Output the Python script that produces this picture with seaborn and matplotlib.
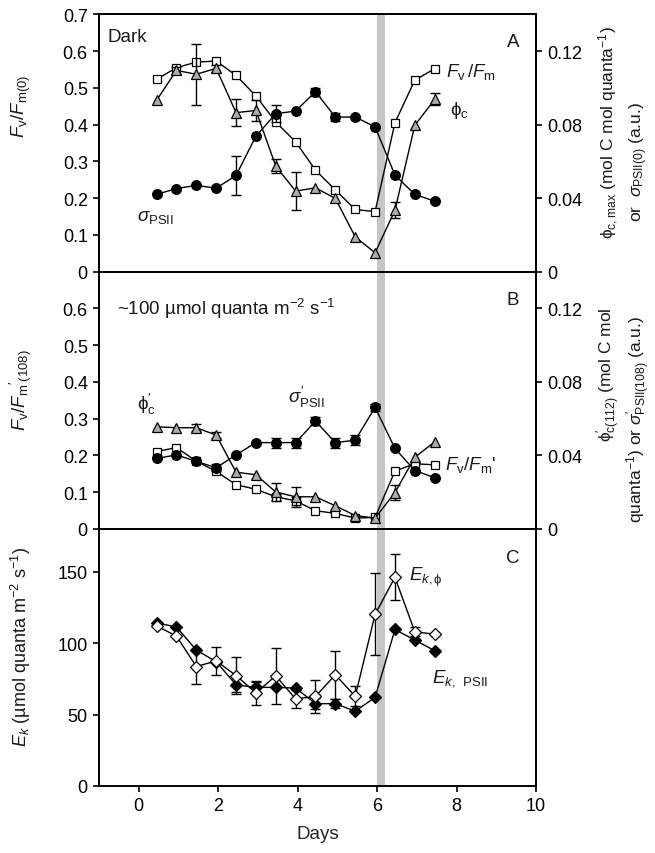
import numpy as np
import pandas as pd
import matplotlib
matplotlib.use('Agg')
import matplotlib.pyplot as plt
import seaborn as sns

# ---------------- data ----------------
days = [0.45, 0.95, 1.45, 1.95, 2.45, 2.95, 3.45, 3.95, 4.45, 4.95, 5.45, 5.95, 6.45, 6.95, 7.45]

# Panel A (dark)
fvfm_dark = [0.523, 0.555, 0.570, 0.573, 0.534, 0.478, 0.407, 0.353, 0.276, 0.222, 0.169, 0.163, 0.405, 0.521, 0.552]
phic_dark = [0.0932, 0.1095, 0.1074, 0.1106, 0.0865, 0.0877, 0.0574, 0.0438, 0.0456, 0.0398, 0.0189, 0.0102, 0.0334, 0.0796, 0.0937]
phic_dark_err = [0, 0.002, 0.0165, 0.002, 0.0075, 0.0055, 0.004, 0.0104, 0, 0, 0, 0, 0.0044, 0, 0.0033]
sigma_dark = [0.0420, 0.0452, 0.0469, 0.0454, 0.0523, 0.0737, 0.0859, 0.0874, 0.0979, 0.0841, 0.0841, 0.0788, 0.0525, 0.0420, 0.0383]
sigma_dark_err = [0, 0, 0, 0, 0.0106, 0, 0.0047, 0, 0.0022, 0.002, 0, 0, 0, 0, 0]

# Panel B (~100 umol quanta)
fvfm_light = [0.210, 0.221, 0.184, 0.156, 0.120, 0.1075, 0.087, 0.076, 0.049, 0.042, 0.029, 0.031, 0.157, 0.177, 0.174]
fvfm_light_err = [0, 0, 0, 0, 0, 0, 0.008, 0.010, 0, 0, 0, 0, 0, 0, 0]
phic_light = [0.0555, 0.0550, 0.0550, 0.0510, 0.0308, 0.0294, 0.0200, 0.0174, 0.0174, 0.0125, 0.0072, 0.0058, 0.0197, 0.0389, 0.0473]
phic_light_err = [0, 0, 0.002, 0.0015, 0, 0, 0.0048, 0.0054, 0, 0, 0, 0, 0.0043, 0, 0]
sigma_light = [0.0383, 0.0402, 0.0367, 0.0332, 0.0402, 0.0469, 0.0469, 0.0469, 0.0586, 0.0469, 0.0482, 0.0661, 0.0437, 0.0317, 0.0278]
sigma_light_err = [0, 0, 0, 0.002, 0, 0, 0.0027, 0.0027, 0.0022, 0.0027, 0.0027, 0.002, 0, 0, 0]

# Panel C (Ek)
ek_psii = [114.1, 111.3, 95.1, 87.0, 70.8, 69.0, 69.0, 68.5, 57.6, 57.6, 52.3, 62.0, 109.5, 102.1, 94.7]
ek_psii_err = [0, 0, 0, 0, 5, 4, 0, 0, 4, 3, 0, 0, 0, 0, 0]
ek_phi = [112.0, 104.9, 83.6, 87.5, 77.3, 65.1, 77.1, 60.9, 62.7, 77.8, 62.7, 120.1, 146.0, 107.9, 106.2]
ek_phi_err = [0, 0, 12, 9.7, 13, 8.3, 19.7, 6, 11.3, 17, 7, 28.6, 16, 3, 0]

# ---------------- style ----------------
sns.set_theme(style='ticks')
plt.rcParams['font.family'] = ['Liberation Sans', 'DejaVu Sans']
plt.rcParams['mathtext.fontset'] = 'custom'
plt.rcParams['mathtext.rm'] = 'Liberation Sans'
plt.rcParams['mathtext.it'] = 'Liberation Sans:italic'
plt.rcParams['mathtext.sf'] = 'Liberation Sans'
plt.rcParams['mathtext.fallback'] = 'stix'
plt.rcParams['axes.linewidth'] = 1.4
plt.rcParams['xtick.major.width'] = 1.2
plt.rcParams['ytick.major.width'] = 1.2
plt.rcParams['xtick.major.size'] = 4
plt.rcParams['ytick.major.size'] = 4
plt.rcParams['xtick.labelsize'] = 13
plt.rcParams['ytick.labelsize'] = 13
plt.rcParams['xtick.color'] = 'black'
plt.rcParams['ytick.color'] = 'black'
plt.rcParams['axes.edgecolor'] = 'black'
plt.rcParams['text.color'] = '#1a1a1a'

FS = 13.5
fig = plt.figure(figsize=(6.55, 8.54), dpi=100)
gs = fig.add_gridspec(3, 1, left=0.1511, right=0.8183, top=0.982, bottom=0.0785, hspace=0)
axA = fig.add_subplot(gs[0])
axB = fig.add_subplot(gs[1], sharex=axA)
axC = fig.add_subplot(gs[2], sharex=axA)
axA2 = axA.twinx()
axB2 = axB.twinx()

GRAY_TRI = '#ababab'


def series(ax, y, err, marker, mfc, ms):
    sns.lineplot(x=days, y=y, ax=ax, color='black', marker=marker,
                 markerfacecolor=mfc, markeredgecolor='black', markersize=ms,
                 markeredgewidth=0.9, linewidth=1.0, errorbar=None, zorder=3,
                 legend=False)
    if err is not None:
        x = np.array(days)
        yy = np.array(y, dtype=float)
        e = np.array(err, dtype=float)
        m = e > 0
        if m.any():
            ax.errorbar(x[m], yy[m], yerr=e[m], fmt='none', ecolor='black',
                        elinewidth=1.0, capsize=3.5, capthick=1.0, zorder=2)


for ax in (axA, axB, axC):
    ax.axvspan(6.0, 6.2, color='#c6c6c6', lw=0, zorder=0)

# Panel A
series(axA, fvfm_dark, None, 's', 'white', 5.5)
series(axA2, sigma_dark, sigma_dark_err, 'o', 'black', 7)
series(axA2, phic_dark, phic_dark_err, '^', GRAY_TRI, 6.5)

# Panel B
series(axB, fvfm_light, fvfm_light_err, 's', 'white', 5.5)
series(axB2, sigma_light, sigma_light_err, 'o', 'black', 7)
series(axB2, phic_light, phic_light_err, '^', GRAY_TRI, 6.5)

# Panel C
series(axC, ek_psii, ek_psii_err, 'D', 'black', 6)
series(axC, ek_phi, ek_phi_err, 'D', 'white', 6)

# axes limits & ticks
axC.set_xlim(-1, 10)
axC.set_xticks([0, 2, 4, 6, 8, 10])
for ax in (axA, axB):
    ax.tick_params(axis='x', labelbottom=False)

axA.set_ylim(0, 0.7)
axA.set_yticks([0, 0.1, 0.2, 0.3, 0.4, 0.5, 0.6, 0.7])
axA.set_yticklabels(['0', '0.1', '0.2', '0.3', '0.4', '0.5', '0.6', '0.7'])
axB.set_ylim(0, 0.7)
axB.set_yticks([0, 0.1, 0.2, 0.3, 0.4, 0.5, 0.6])
axB.set_yticklabels(['0', '0.1', '0.2', '0.3', '0.4', '0.5', '0.6'])
for ax2 in (axA2, axB2):
    ax2.set_ylim(0, 0.14)
    ax2.set_yticks([0, 0.04, 0.08, 0.12])
    ax2.set_yticklabels(['0', '0.04', '0.08', '0.12'])
axC.set_ylim(0, 180)
axC.set_yticks([0, 50, 100, 150])
axC.set_yticklabels(['0', '50', '100', '150'])

for ax in (axA, axB, axC, axA2, axB2):
    ax.set_xlabel('')
    ax.set_ylabel('')
    for s in ax.spines.values():
        s.set_visible(True)
        s.set_linewidth(1.4)
    ax.tick_params(direction='out', length=4, width=1.2, pad=4)
axC.tick_params(axis='y', right=False)
axC.set_xlabel('Days', fontsize=FS, labelpad=8)

# panel texts
axA.text(0.02, 0.914, 'Dark', transform=axA.transAxes, fontsize=FS, va='center', ha='left')
axA.text(0.947, 0.895, 'A', transform=axA.transAxes, fontsize=FS, va='center', ha='center')
axB.text(0.947, 0.89, 'B', transform=axB.transAxes, fontsize=FS, va='center', ha='center')
axC.text(0.947, 0.888, 'C', transform=axC.transAxes, fontsize=FS, va='center', ha='center')

axA.text(7.73, 0.545, r'$\mathit{F}_{\mathrm{v}}\,/\mathit{F}_{\mathrm{m}}$', fontsize=FS, va='center', ha='left')
axA.text(7.83, 0.441, r'$\mathrm{ϕ}_{\mathrm{c}}$', fontsize=FS, va='center', ha='left')
axA.text(-0.05, 0.15, r'$\sigma_{\mathrm{PSII}}$', fontsize=FS, va='center', ha='left')

axB.text(0.041, 0.86, r'~100 µmol quanta m$^{-2}$ s$^{-1}$', transform=axB.transAxes,
         fontsize=FS, va='center', ha='left')
axB.text(-0.05, 0.341, r'$\mathrm{ϕ}^{\prime}_{\mathrm{c}}$', fontsize=FS, va='center', ha='left')
axB.text(3.75, 0.36, r'$\sigma^{\prime}_{\mathrm{PSII}}$', fontsize=FS, va='center', ha='left')
axB.text(7.71, 0.177, r"$\mathit{F}_{\mathrm{v}}/\mathit{F}_{\mathrm{m}}$'", fontsize=FS, va='center', ha='left')

axC.text(6.8, 147, r'$\mathit{E}_{k,\mathrm{ϕ}}$', fontsize=FS, va='center', ha='left')
axC.text(7.38, 76, r'$\mathit{E}_{k,}$ $_{\mathrm{PSII}}$', fontsize=FS, va='center', ha='left')

# axis labels (figure coordinates)
fig.text(0.032, 0.876, r'$\mathit{F}_{\mathrm{v}}/\mathit{F}_{\mathrm{m(0)}}$', rotation=90,
         fontsize=FS, ha='center', va='center')
fig.text(0.032, 0.543, r'$\mathit{F}_{\mathrm{v}}/\mathit{F}_{\mathrm{m}}{}^{\prime}{}_{\mathrm{(108)}}$', rotation=90,
         fontsize=FS, ha='center', va='center')
fig.text(0.032, 0.243, r'$\mathit{E}_{k}$ (µmol quanta m$^{-2}$ s$^{-1}$)', rotation=90,
         fontsize=13, ha='center', va='center')

RFS = 12.5
fig.text(609 / 655, 1 - 133 / 854, r'$\mathrm{ϕ}_{\mathrm{c,max}}$ (mol C mol quanta$^{-1}$)', rotation=90,
         fontsize=RFS, ha='center', va='center')
fig.text(639 / 655, 1 - 162 / 854, r'or  $\sigma_{\mathrm{PSII(0)}}$ (a.u.)', rotation=90,
         fontsize=RFS, ha='center', va='center')
fig.text(609 / 655, 1 - 375 / 854, r'$\mathrm{ϕ}^{\prime}_{\mathrm{c(112)}}$ (mol C mol', rotation=90,
         fontsize=RFS, ha='center', va='center')
fig.text(639 / 655, 1 - 420 / 854, r'quanta$^{-1}$) or $\sigma^{\prime}_{\mathrm{PSII(108)}}$ (a.u.)', rotation=90,
         fontsize=RFS, ha='center', va='center')

fig.savefig('out.png', dpi=100)
